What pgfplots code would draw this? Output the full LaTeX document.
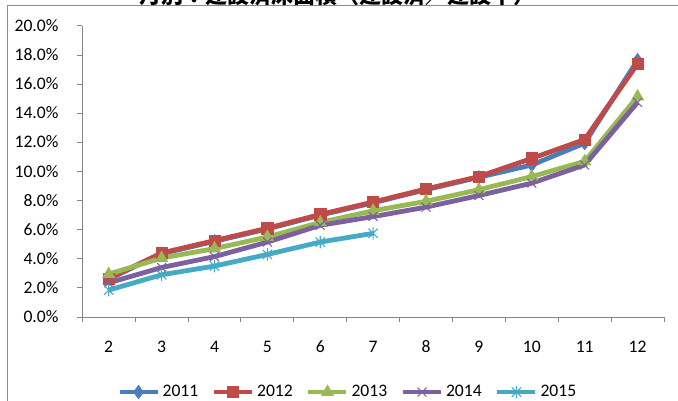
\documentclass[border=0pt]{standalone}
\usepackage{fontspec}
\setmainfont{Carlito}
\newfontfamily\cjk{Noto Sans CJK JP}
\usepackage{pgfplots}
\pgfplotsset{compat=1.18}
\definecolor{c2011}{HTML}{4A7EBB}
\definecolor{c2012}{HTML}{BE4B48}
\definecolor{c2013}{HTML}{98B954}
\definecolor{c2014}{HTML}{7D60A0}
\definecolor{c2015}{HTML}{46AAC5}
\definecolor{axisgray}{HTML}{868686}
\definecolor{framegray}{HTML}{8C8C8C}
\pgfdeclareplotmark{xstar}{%
  \pgfpathmoveto{\pgfqpoint{-.75\pgfplotmarksize}{-.75\pgfplotmarksize}}%
  \pgfpathlineto{\pgfqpoint{.75\pgfplotmarksize}{.75\pgfplotmarksize}}%
  \pgfpathmoveto{\pgfqpoint{-.75\pgfplotmarksize}{.75\pgfplotmarksize}}%
  \pgfpathlineto{\pgfqpoint{.75\pgfplotmarksize}{-.75\pgfplotmarksize}}%
  \pgfpathmoveto{\pgfqpoint{0pt}{-\pgfplotmarksize}}%
  \pgfpathlineto{\pgfqpoint{0pt}{\pgfplotmarksize}}%
  \pgfusepathqstroke}
\begin{document}
\begin{tikzpicture}
\useasboundingbox (0,0) rectangle (508.5pt,300pt);
\clip (0,0) rectangle (508.5pt,300pt);
\draw[framegray, line width=0.75pt] (5.25pt,-20pt) -- (5.25pt,295.7pt) -- (530pt,295.7pt);
\node[anchor=base, inner sep=0pt, font=\cjk\bfseries\fontsize{16.5}{18}\selectfont] at (252.75pt,297.3pt) {月別：建設済床面積（建設済／建設中）};
\begin{axis}[
  at={(61.7pt,62.25pt)}, anchor=south west,
  scale only axis, width=436.3pt, height=218.25pt,
  xmin=1.5, xmax=12.5, ymin=0, ymax=20,
  axis lines=left, axis line style={-, draw=axisgray, line width=0.75pt},
  tick align=outside,
  xtick={2,...,12},
  minor xtick={1.5,2.5,...,12.5},
  major x tick style={draw=none},
  minor x tick style={draw=axisgray, line width=0.75pt},
  minor tick length=4pt,
  ytick={0,2,...,20},
  y tick style={draw=axisgray, line width=0.75pt},
  major tick length=4pt,
  /pgf/number format/assume math mode=true,
  yticklabel={\pgfmathprintnumber[fixed,fixed zerofill,precision=1]{\tick}\%},
  tick label style={font=\fontsize{13.2}{15}\selectfont, text=black, inner sep=0pt},
  xticklabel style={anchor=base, yshift=-22.9pt},
  yticklabel style={anchor=base east, xshift=-13.7pt, yshift=-4.2pt},
  clip=false,
  legend style={at={(0.4568,-0.258)}, anchor=center, draw=none, fill=none,
    font=\fontsize{13.2}{15}\selectfont, legend columns=5,
    /tikz/every even column/.append style={column sep=8pt}},
  legend image code/.code={\draw[mark repeat=2,mark phase=2,#1] plot coordinates {(0pt,0pt) (14.25pt,0pt) (28.5pt,0pt)};},
]
\addplot[color=c2011, line width=3.6pt, mark=diamond*, mark size=5pt, mark options={solid, line width=0.5pt}]
  coordinates {(2,2.6) (3,4.35) (4,5.2) (5,6.05) (6,7.0) (7,7.85) (8,8.75) (9,9.6) (10,10.45) (11,11.95) (12,17.65)};
\addlegendentry{2011}
\addplot[color=c2012, line width=3.6pt, mark=square*, mark size=4.2pt, mark options={solid, line width=0.5pt}]
  coordinates {(2,2.65) (3,4.4) (4,5.25) (5,6.1) (6,7.05) (7,7.9) (8,8.8) (9,9.65) (10,10.9) (11,12.2) (12,17.4)};
\addlegendentry{2012}
\addplot[color=c2013, line width=3.6pt, mark=triangle*, mark size=5.2pt, mark options={solid, line width=0.5pt}]
  coordinates {(2,2.95) (3,4.05) (4,4.7) (5,5.5) (6,6.5) (7,7.3) (8,7.95) (9,8.75) (10,9.65) (11,10.7) (12,15.15)};
\addlegendentry{2013}
\addplot[color=c2014, line width=3.6pt, mark=x, mark size=4.7pt, mark options={solid, line width=0.8pt}]
  coordinates {(2,2.35) (3,3.4) (4,4.15) (5,5.15) (6,6.3) (7,6.9) (8,7.55) (9,8.35) (10,9.2) (11,10.45) (12,14.75)};
\addlegendentry{2014}
\addplot[color=c2015, line width=3.6pt, mark=xstar, mark size=4.7pt, mark options={solid, line width=0.8pt}]
  coordinates {(2,1.85) (3,2.9) (4,3.5) (5,4.3) (6,5.15) (7,5.75)};
\addlegendentry{2015}
\end{axis}
\end{tikzpicture}
\end{document}
